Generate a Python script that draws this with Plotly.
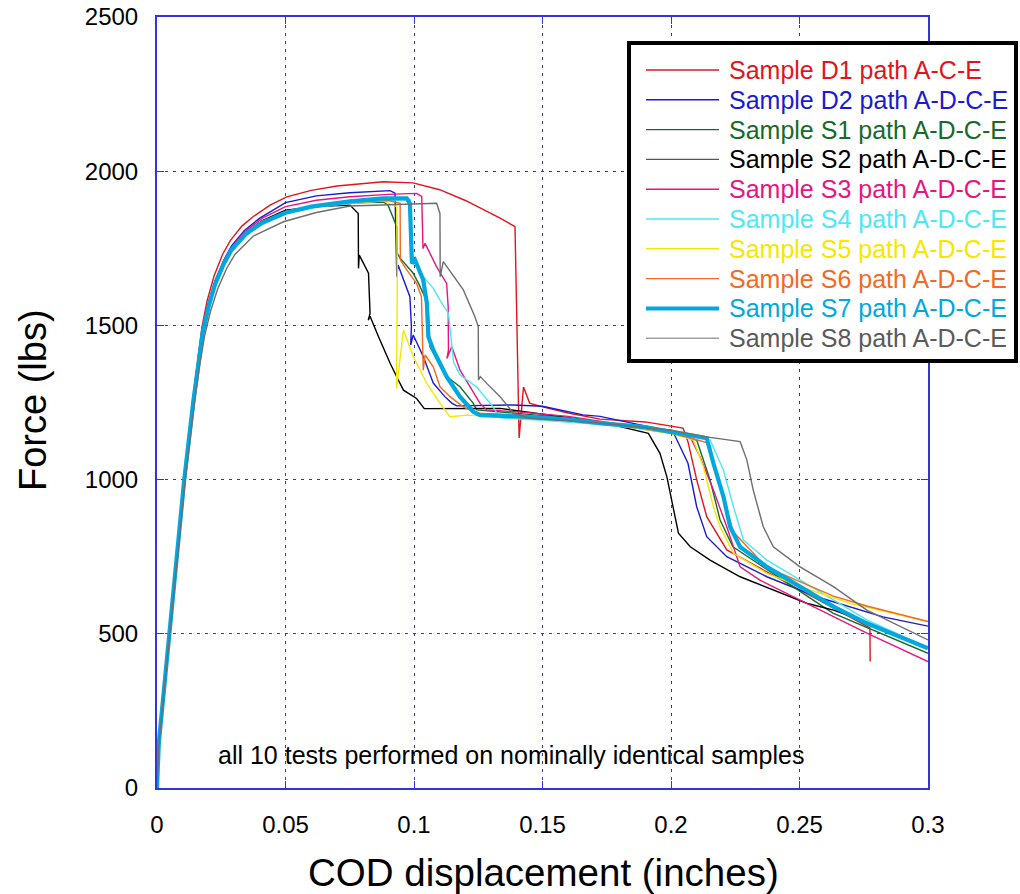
import plotly.graph_objects as go

# ---------------- data ----------------
names = ["Sample D1 path A-C-E", "Sample D2 path A-D-C-E", "Sample S1 path A-D-C-E",
         "Sample S2 path A-D-C-E", "Sample S3 path A-D-C-E", "Sample S4 path A-D-C-E",
         "Sample S5 path A-D-C-E", "Sample S6 path A-D-C-E", "Sample S7 path A-D-C-E",
         "Sample S8 path A-D-C-E"]

d1_x = [0, 0.0007, 0.0027, 0.0048, 0.0077, 0.0104, 0.014, 0.0158, 0.0175, 0.0195, 0.0222, 0.0255,
        0.0285, 0.033, 0.0375, 0.044, 0.0505, 0.06,
        0.07, 0.088, 0.0996, 0.11, 0.12, 0.1335, 0.1393, 0.1409, 0.1426, 0.145, 0.15, 0.16, 0.1724,
        0.19, 0.2047, 0.2066, 0.210, 0.2139, 0.2217, 0.2502, 0.2774, 0.2775]
d1_f = [0, 145, 320, 505, 780, 1005, 1265, 1390, 1495, 1580, 1660, 1730,
        1775, 1822, 1853, 1890, 1917, 1938,
        1952, 1966, 1962, 1940, 1905, 1848, 1820, 1135, 1300, 1248, 1236, 1216, 1196,
        1187, 1167, 1123, 999, 880, 772, 642, 519, 410]

d2_x = [0, 0.0007, 0.0027, 0.0048, 0.0077, 0.0105, 0.0142, 0.016, 0.0177, 0.0198, 0.0226, 0.026,
        0.029, 0.034, 0.04, 0.05, 0.062,
        0.075, 0.0907, 0.0926, 0.0933, 0.0938, 0.0984, 0.099, 0.0987, 0.0997, 0.1036, 0.1075,
        0.112, 0.1147, 0.1166, 0.1387, 0.150, 0.1658, 0.1724, 0.2008, 0.2035, 0.2066, 0.21,
        0.2139, 0.2217, 0.2373, 0.2567, 0.2825, 0.3]
d2_f = [0, 145, 318, 500, 775, 1000, 1260, 1385, 1485, 1568, 1645, 1712,
        1758, 1808, 1848, 1898, 1920,
        1930, 1937, 1929, 1658, 1696, 1593, 1496, 1436, 1469, 1399, 1313,
        1269, 1248, 1239, 1242, 1238, 1210, 1205, 1155, 1107, 1053, 912,
        815, 750, 685, 620, 555, 525]

s1_x = [0, 0.0007, 0.0027, 0.0048, 0.0077, 0.0106, 0.0142, 0.016, 0.0178, 0.02, 0.0228, 0.0262,
        0.0292, 0.0345, 0.041, 0.05, 0.062,
        0.075, 0.0881, 0.0899, 0.0933, 0.0935, 0.0946, 0.0996, 0.1017, 0.1054, 0.1062, 0.1127,
        0.1179, 0.123, 0.1244, 0.14, 0.16, 0.18, 0.2, 0.21, 0.2152, 0.2191, 0.2241, 0.2436,
        0.263, 0.3]
s1_f = [0, 145, 318, 500, 772, 1000, 1258, 1380, 1478, 1558, 1632, 1698,
        1742, 1792, 1832, 1866, 1886,
        1897, 1900, 1890, 1820, 1734, 1718, 1670, 1637, 1572, 1431, 1334,
        1301, 1248, 1226, 1215, 1200, 1175, 1150, 1128, 999, 869, 782, 674,
        567, 437]

s2_x = [0, 0.0007, 0.0027, 0.0048, 0.0077, 0.0106, 0.0142, 0.016, 0.0178, 0.02, 0.0228, 0.0262,
        0.0292, 0.0345, 0.041, 0.05, 0.062,
        0.0751, 0.0783, 0.0784, 0.0787, 0.0823, 0.0829, 0.0822, 0.0829, 0.0862, 0.0907, 0.0939,
        0.0959, 0.101, 0.1036, 0.104, 0.1335, 0.1724, 0.1912, 0.1957, 0.1984, 0.2009, 0.2029,
        0.2075, 0.2152, 0.2269, 0.2398, 0.2528, 0.2632, 0.2723]
s2_f = [0, 145, 318, 500, 772, 1000, 1258, 1382, 1480, 1562, 1638, 1705,
        1750, 1800, 1840, 1874, 1885,
        1890, 1863, 1685, 1728, 1669, 1539, 1517, 1530, 1463, 1377, 1323,
        1290, 1263, 1231, 1230, 1231, 1187, 1150, 1085, 1009, 901, 826,
        782, 739, 685, 642, 599, 577, 550]

s3_x = [0, 0.0007, 0.0027, 0.0048, 0.0077, 0.0106, 0.0142, 0.016, 0.0177, 0.0199, 0.0227, 0.026,
        0.029, 0.034, 0.041, 0.05, 0.062,
        0.075, 0.09, 0.101, 0.103, 0.1035, 0.1043, 0.1088, 0.1127, 0.1133, 0.1134, 0.1128,
        0.1147, 0.1179, 0.1218, 0.1257, 0.1283, 0.14, 0.16, 0.18, 0.2, 0.2074, 0.2113, 0.2165,
        0.2217, 0.2269, 0.2346, 0.2502, 0.2762, 0.3]
s3_f = [0, 145, 318, 500, 772, 1000, 1258, 1383, 1482, 1565, 1640, 1708,
        1753, 1803, 1848, 1885, 1906,
        1917, 1925, 1928, 1918, 1749, 1766, 1690, 1636, 1561, 1420, 1393,
        1431, 1355, 1301, 1247, 1226, 1220, 1205, 1180, 1160, 1139, 1074, 966,
        847, 717, 674, 610, 502, 410]

s4_x = [0, 0.0007, 0.0027, 0.0048, 0.0077, 0.0106, 0.0142, 0.016, 0.0178, 0.02, 0.0228, 0.0262,
        0.0292, 0.0345, 0.041, 0.05, 0.062,
        0.075, 0.09, 0.0985, 0.0995, 0.1036, 0.1075, 0.1101, 0.1134, 0.1147, 0.1154, 0.1179,
        0.1244, 0.1302, 0.1335, 0.15, 0.17, 0.19, 0.2, 0.2152, 0.2204, 0.2243, 0.2282, 0.2373,
        0.2502, 0.2762, 0.3]
s4_f = [0, 145, 318, 500, 772, 1000, 1258, 1380, 1478, 1558, 1632, 1697,
        1740, 1790, 1830, 1862, 1884,
        1895, 1905, 1908, 1712, 1658, 1620, 1582, 1539, 1420, 1380, 1340,
        1300, 1242, 1200, 1192, 1180, 1165, 1155, 1128, 1031, 912, 804, 739,
        674, 545, 455]

s5_x = [0, 0.0007, 0.0027, 0.0048, 0.0077, 0.0106, 0.0142, 0.016, 0.0178, 0.02, 0.0228, 0.0262,
        0.0292, 0.0345, 0.041, 0.05, 0.062,
        0.075, 0.0881, 0.0933, 0.0935, 0.0932, 0.0959, 0.0998, 0.105, 0.1101, 0.114, 0.1205,
        0.14, 0.16, 0.18, 0.2, 0.2087, 0.2126, 0.2165, 0.2191, 0.2243, 0.2373, 0.2502, 0.2697,
        0.3]
s5_f = [0, 145, 318, 500, 772, 1000, 1258, 1381, 1479, 1560, 1635, 1700,
        1745, 1796, 1836, 1868, 1888,
        1898, 1903, 1885, 1636, 1296, 1485, 1398, 1312, 1247, 1204, 1209,
        1200, 1190, 1175, 1150, 1128, 1042, 912, 847, 761, 696, 653, 599,
        540]

s6_x = [0, 0.0007, 0.0027, 0.0048, 0.0077, 0.0106, 0.0142, 0.016, 0.0178, 0.02, 0.0228, 0.0262,
        0.0292, 0.0345, 0.041, 0.05, 0.062,
        0.075, 0.09, 0.0946, 0.0947, 0.0972, 0.101, 0.1029, 0.1036, 0.1043, 0.1075, 0.1101,
        0.114, 0.1192, 0.1244, 0.14, 0.16, 0.18, 0.2, 0.2139, 0.2165, 0.2204, 0.2243, 0.2373,
        0.2502, 0.2632, 0.2762, 0.3]
s6_f = [0, 145, 318, 500, 772, 1000, 1258, 1381, 1479, 1560, 1635, 1700,
        1745, 1796, 1836, 1866, 1887,
        1898, 1905, 1896, 1712, 1680, 1636, 1593, 1355, 1404, 1366, 1301,
        1269, 1236, 1215, 1210, 1198, 1178, 1152, 1120, 1050, 940, 830, 715,
        668, 622, 590, 540]

s7_x = [0, 0.0007, 0.0027, 0.0048, 0.0077, 0.0106, 0.0142, 0.016, 0.0178, 0.02, 0.0226, 0.026,
        0.029, 0.0349, 0.041,
        0.05, 0.06, 0.075, 0.088, 0.0972, 0.0984, 0.0992, 0.1004, 0.1036, 0.105, 0.1056, 0.1075,
        0.1127, 0.1179, 0.1231, 0.1257, 0.14, 0.16, 0.1724, 0.19, 0.2139, 0.2165, 0.2204, 0.223,
        0.2269, 0.2373, 0.2502, 0.2632, 0.2762, 0.3]
s7_f = [0, 145, 318, 500, 772, 1000, 1258, 1380, 1478, 1558, 1634, 1700,
        1745, 1799, 1833,
        1865, 1885, 1902, 1912, 1912, 1896, 1701, 1712, 1647, 1572, 1463, 1420,
        1334, 1269, 1220, 1209, 1205, 1195, 1183, 1170, 1134, 1053, 945, 847,
        782, 717, 653, 588, 534, 453]

s8_x = [0, 0.0007, 0.0027, 0.005, 0.008, 0.011, 0.0147, 0.0166, 0.0185, 0.0208, 0.0236, 0.027,
        0.0303, 0.0375, 0.0492, 0.062,
        0.0751, 0.1088, 0.1101, 0.1102, 0.1114, 0.1192, 0.1237, 0.125, 0.1251, 0.1258, 0.1283,
        0.1335, 0.1387, 0.145, 0.17, 0.2, 0.2152, 0.2269, 0.2295, 0.232, 0.2359, 0.2398, 0.2502,
        0.2632, 0.2762, 0.3]
s8_f = [0, 140, 310, 500, 770, 1000, 1255, 1370, 1465, 1545, 1618, 1683,
        1730, 1790, 1836, 1866,
        1887, 1896, 1863, 1658, 1707, 1615, 1528, 1496, 1323, 1334, 1312,
        1269, 1215, 1199, 1185, 1160, 1137, 1123, 1064, 966, 847, 782, 717,
        653, 577, 480]

series_x = [d1_x, d2_x, s1_x, s2_x, s3_x, s4_x, s5_x, s6_x, s7_x, s8_x]
series_f = [d1_f, d2_f, s1_f, s2_f, s3_f, s4_f, s5_f, s6_f, s7_f, s8_f]

x_ticks = [0, 0.05, 0.1, 0.15, 0.2, 0.25, 0.3]
x_tick_labels = ["0", "0.05", "0.1", "0.15", "0.2", "0.25", "0.3"]
y_ticks = [0, 500, 1000, 1500, 2000, 2500]
y_tick_labels = ["0", "500", "1000", "1500", "2000", "2500"]

# ---------------- styles ----------------
line_colors = ["#E3141B", "#1A1AD2", "#166A2A", "#000000", "#E8157F",
               "#4DE8F5", "#F5E800", "#F26A24", "#00A8E0", "#6E6E6E"]
text_colors = ["#E3141B", "#1A1AD2", "#166A2A", "#000000", "#E8157F",
               "#4DE8F5", "#F5E800", "#F26A24", "#00A8E0", "#5A5A5A"]
legend_line_colors = ["#E3141B", "#1A1AD2", "#166A2A", "#555555", "#E8157F",
                      "#4DE8F5", "#F5E800", "#F26A24", "#00A8E0", "#A0A0A0"]
line_widths = [1.4, 1.4, 1.4, 1.4, 1.4, 1.4, 1.4, 1.4, 4.2, 1.4]

FONT = "Liberation Sans, Arial, Helvetica, sans-serif"
AXIS_BLUE = "#3434DC"

fig = go.Figure()
for i in range(len(names)):
    fig.add_trace(go.Scatter(x=series_x[i], y=series_f[i], mode="lines", name=names[i],
                             line=dict(color=line_colors[i], width=line_widths[i]),
                             showlegend=False))

# plot-area edges in window pixels
L, R, T, B = 157, 928, 17, 788
W, H = 1020, 894
pw, ph = R - L, B - T

def px_to_paper_x(px):
    return (px - L) / pw

def px_to_paper_y(py):
    return (B - py) / ph

shapes = []
annotations = []

# legend box
shapes.append(dict(type="rect", xref="paper", yref="paper", layer="above",
                   x0=px_to_paper_x(629), x1=px_to_paper_x(1016),
                   y0=px_to_paper_y(361), y1=px_to_paper_y(43),
                   fillcolor="white", line=dict(color="black", width=4)))
for i, nm in enumerate(names):
    yc = px_to_paper_y(70 + 29.8 * i)
    shapes.append(dict(type="line", xref="paper", yref="paper", layer="above",
                       x0=px_to_paper_x(646), x1=px_to_paper_x(719), y0=yc, y1=yc,
                       line=dict(color=legend_line_colors[i],
                                 width=4 if i == 8 else 1.4)))
    annotations.append(dict(xref="paper", yref="paper", x=px_to_paper_x(727), y=yc,
                            text=nm, showarrow=False, xanchor="left", yanchor="middle",
                            font=dict(family=FONT, size=25, color=text_colors[i])))

annotations.append(dict(xref="paper", yref="paper", x=px_to_paper_x(511), y=px_to_paper_y(755),
                        text="all 10 tests performed on nominally identical samples",
                        showarrow=False, xanchor="center", yanchor="middle",
                        font=dict(family=FONT, size=25, color="black")))
annotations.append(dict(xref="paper", yref="paper", x=px_to_paper_x(543), y=px_to_paper_y(872),
                        text="COD displacement (inches)", showarrow=False,
                        xanchor="center", yanchor="middle",
                        font=dict(family=FONT, size=38.5, color="black")))
annotations.append(dict(xref="paper", yref="paper", x=px_to_paper_x(33), y=px_to_paper_y(400),
                        text="Force (lbs)", showarrow=False, textangle=-90,
                        xanchor="center", yanchor="middle",
                        font=dict(family=FONT, size=38, color="black")))

axis_common = dict(showgrid=True, gridcolor=AXIS_BLUE, gridwidth=1, griddash="3px,5px",
                   showline=True, linecolor=AXIS_BLUE, linewidth=2, mirror="ticks",
                   ticks="inside", ticklen=7, tickcolor=AXIS_BLUE, tickwidth=1,
                   zeroline=False, automargin=False, ticklabeloverflow="allow",
                   tickfont=dict(family=FONT, size=24, color="black"))

fig.update_layout(
    width=W, height=H,
    margin=dict(l=L, r=W - R, t=T, b=H - B, pad=0, autoexpand=False),
    paper_bgcolor="white", plot_bgcolor="white",
    showlegend=False,
    xaxis=dict(range=[0, 0.3], tickvals=x_ticks, ticktext=x_tick_labels,
               ticklabelstandoff=14, **axis_common),
    yaxis=dict(range=[0, 2500], tickvals=y_ticks, ticktext=y_tick_labels,
               ticklabelstandoff=12, **axis_common),
    shapes=shapes, annotations=annotations,
)

# the page's default 8px body margin would push the 1020x894 figure out of the window
fig.write_html("out.html", config={"displayModeBar": False},
               post_script="document.body.style.margin='0px';")
